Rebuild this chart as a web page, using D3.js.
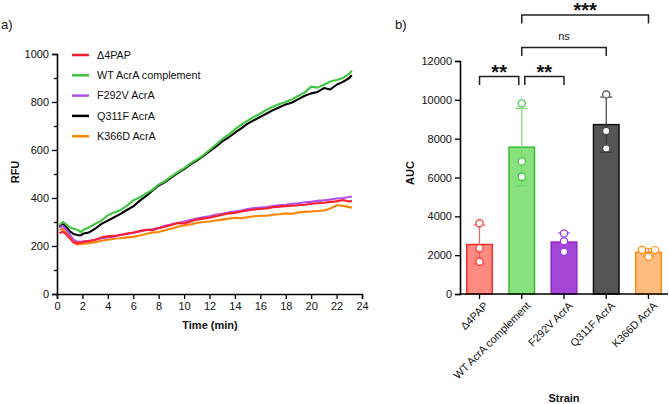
<!DOCTYPE html>
<html><head><meta charset="utf-8">
<script src="https://cdn.jsdelivr.net/npm/d3@7"></script>
<style>body{margin:0;background:#fff}svg{display:block}text{font-family:"Liberation Sans",Arial,Helvetica,sans-serif;fill:#111}</style>
</head><body><svg id="c" width="669" height="404"></svg>
<script>
// ---------- Panel a data ----------
const times = [0.2,0.45,0.7,1.0,1.3,1.6,1.85,2.1,2.5,3.0,3.5,4.0,4.5,5.0,5.5,6.0,6.5,7.0,7.5,8.0,8.5,9.0,9.5,10.0,10.5,11.0,11.5,12.0,12.5,13.0,13.5,14.0,14.5,15.0,15.5,16.0,16.5,17.0,17.5,18.0,18.5,19.0,19.5,20.0,20.5,21.0,21.5,22.0,22.5,23.0,23.2];
const seriesNames = ["Δ4PAP","WT AcrA complement","F292V AcrA","Q311F AcrA","K366D AcrA"];
const rfuD4PAP = [253,260,250,232,216,212,214,218,220,226,236,240,242,246,252,256,262,268,266,274,280,288,296,294,302,310,314,318,324,330,336,338,344,348,352,354,356,362,364,366,368,370,372,376,378,380,384,386,392,385,388];
const rfuWT    = [287,300,292,278,272,268,258,268,277,292,306,328,340,350,368,390,402,418,434,456,470,490,508,524,544,560,578,600,622,645,664,686,706,722,738,752,768,780,792,800,812,826,840,864,860,872,885,892,900,918,930];
const rfuF292V = [275,284,270,248,226,218,218,220,222,226,232,236,240,246,250,254,260,266,270,276,284,290,296,302,308,314,320,324,330,334,340,344,348,354,358,360,362,366,370,372,376,378,382,384,388,390,394,398,400,404,406];
const rfuQ311F = [280,292,280,262,250,246,244,252,256,272,292,306,320,334,350,365,388,408,430,452,466,486,504,520,540,556,574,594,614,636,652,672,690,710,724,738,752,766,778,790,798,812,826,836,842,858,852,872,884,900,912];
const rfuK366D = [266,272,258,236,214,206,208,210,212,216,222,226,230,232,236,238,244,250,256,258,266,272,280,286,290,296,300,302,306,310,314,318,316,320,324,326,326,330,332,336,334,340,342,344,346,348,356,370,368,362,360];
const xTicksA = [0,2,4,6,8,10,12,14,16,18,20,22,24];
const yTicksA = [0,200,400,600,800,1000];
const yMinorA = [100,300,500,700,900];

// ---------- Panel b data ----------
const strains = ["Δ4PAP","WT AcrA complement","F292V AcrA","Q311F AcrA","K366D AcrA"];
const aucReps = [[3640,2350,1660],[9820,6830,6040],[3120,2720,2180],[10280,8390,7500],[2270,1920,2260]];
const yTicksB = [0,2000,4000,6000,8000,10000,12000];
const sigPairs = [[0,1],[1,2],[1,3],[1,4]];
const sigLabels = ["**","**","ns","***"];
const sigHeights = [11200,11200,12700,14370];

// ---------- styles ----------
const lineColors = ["#ff1f2d","#3cc83c","#b04ff0","#000000","#ff8400"];
const barFill   = ["#ff8a80","#88e07e","#a446d6","#555555","#ffbb7e"];
const barStroke = ["#ff2a2a","#37c02e","#9520c8","#111111","#ff8a10"];
const errColor  = ["#ff5a5a","#6fd868","#a040d8","#333333","#ff8f20"];
const ptColor   = ["#ff3030","#3cc83c","#a030e0","#444444","#ff8a10"];

const svg = d3.select("#c");

// ================= Panel a =================
const xA = d3.scaleLinear().domain([0,24]).range([57,362]);
const yA = d3.scaleLinear().domain([0,1000]).range([294,54]);

svg.append("text").attr("x",1).attr("y",29).attr("font-size",13).text("a)");

const gxA = svg.append("g").attr("transform","translate(0,294)")
  .call(d3.axisBottom(xA).tickValues(xTicksA).tickSize(5).tickPadding(3).tickFormat(d3.format("d")));
const gyA = svg.append("g").attr("transform","translate(57,0)")
  .call(d3.axisLeft(yA).tickValues(yTicksA).tickSize(5).tickPadding(3).tickFormat(d3.format("d")));
svg.append("g").attr("transform","translate(57,0)")
  .call(d3.axisLeft(yA).tickValues(yMinorA).tickSize(3).tickFormat(""))
  .call(g=>g.select(".domain").remove());
[gxA,gyA].forEach(g=>{
  g.selectAll("text").attr("font-size",11).attr("fill","#111");
  g.select(".domain").attr("stroke","#000").attr("stroke-width",1.6);
});
svg.selectAll(".tick line").attr("stroke","#000").attr("stroke-width",1.3);

svg.append("text").attr("transform","translate(19,172) rotate(-90)").attr("text-anchor","middle")
  .attr("font-size",11).attr("font-weight","bold").text("RFU");
svg.append("text").attr("x",210).attr("y",329).attr("text-anchor","middle")
  .attr("font-size",11).attr("font-weight","bold").text("Time (min)");

const seriesData = [rfuD4PAP,rfuWT,rfuF292V,rfuQ311F,rfuK366D];
const line = d3.line().x((d,i)=>xA(times[i])).y(d=>yA(d));
const drawOrder = [3,1,4,2,0];
drawOrder.forEach(k=>{
  svg.append("path").datum(seriesData[k]).attr("d",line)
    .attr("fill","none").attr("stroke",lineColors[k]).attr("stroke-width",2.1)
    .attr("stroke-linejoin","round");
});

// legend
const leg = svg.append("g");
seriesNames.forEach((n,i)=>{
  const y = 55 + i*20.3;
  leg.append("line").attr("x1",72).attr("x2",89).attr("y1",y).attr("y2",y)
    .attr("stroke",lineColors[i]).attr("stroke-width",2.5);
  leg.append("text").attr("x",97).attr("y",y).attr("dy","0.36em").attr("font-size",10.8).text(n);
});

// ================= Panel b =================
const xB = d3.scaleBand().domain(strains).range([466,662]).paddingInner(0.36).paddingOuter(0);
const yB = d3.scaleLinear().domain([0,12000]).range([294,61]);

svg.append("text").attr("x",395).attr("y",29).attr("font-size",13).text("b)");

const means = aucReps.map(r=>d3.mean(r));
const sds = aucReps.map(r=>d3.deviation(r));

// bars
strains.forEach((s,i)=>{
  svg.append("rect").attr("x",xB(s)+0.75).attr("width",xB.bandwidth()-1.5)
    .attr("y",yB(means[i])).attr("height",yB(0)-yB(means[i]))
    .attr("fill",barFill[i]).attr("stroke",barStroke[i]).attr("stroke-width",1.5);
});

// axes
const gxB = svg.append("g").attr("transform","translate(0,294)")
  .call(d3.axisBottom(xB).tickSize(5).tickFormat(""));
gxB.select(".domain").attr("d","M460,0H668").attr("stroke","#000").attr("stroke-width",1.6);
gxB.selectAll(".tick line").attr("stroke","#000").attr("stroke-width",1.3);
strains.forEach((s,i)=>{
  const cx = xB(s)+xB.bandwidth()/2;
  svg.append("text").attr("transform",`translate(${cx+4},301) rotate(-45)`)
    .attr("text-anchor","end").attr("dy","0.71em").attr("font-size",10.8).text(s);
});
const gyB = svg.append("g").attr("transform","translate(460,0)")
  .call(d3.axisLeft(yB).tickValues(yTicksB).tickSize(5).tickPadding(3).tickFormat(d3.format("d")));
gyB.selectAll("text").attr("font-size",11).attr("fill","#111");
gyB.select(".domain").attr("stroke","#000").attr("stroke-width",1.6);
gyB.selectAll(".tick line").attr("stroke","#000").attr("stroke-width",1.3);

svg.append("text").attr("transform","translate(414,173) rotate(-90)").attr("text-anchor","middle")
  .attr("font-size",11).attr("font-weight","bold").text("AUC");
svg.append("text").attr("x",564).attr("y",402).attr("text-anchor","middle")
  .attr("font-size",11).attr("font-weight","bold").text("Strain");

// error bars (mean ± SD)
strains.forEach((s,i)=>{
  const cx = xB(s)+xB.bandwidth()/2;
  const hi = yB(means[i]+sds[i]), lo = yB(means[i]-sds[i]);
  const g = svg.append("g").attr("stroke",errColor[i]).attr("stroke-width",1.1);
  g.append("line").attr("x1",cx).attr("x2",cx).attr("y1",hi).attr("y2",lo);
  g.append("line").attr("x1",cx-6).attr("x2",cx+6).attr("y1",hi).attr("y2",hi);
  g.append("line").attr("x1",cx-6).attr("x2",cx+6).attr("y1",lo).attr("y2",lo);
});

// replicate points
const r = 3.6;
aucReps.forEach((reps,i)=>{
  const cx = xB(strains[i])+xB.bandwidth()/2;
  const ys = reps.map(v=>yB(v));
  let collide = false;
  for (let a=0;a<ys.length;a++) for (let b=a+1;b<ys.length;b++) if (Math.abs(ys[a]-ys[b])<2*r) collide = true;
  reps.forEach((v,j)=>{
    const off = collide ? (j-1)*6.5 : 0;
    svg.append("circle").attr("cx",cx+off).attr("cy",yB(v)).attr("r",r)
      .attr("fill","#fff").attr("stroke",ptColor[i]).attr("stroke-width",1.2);
  });
});

// significance brackets
sigPairs.forEach((p,k)=>{
  let x1 = xB(strains[p[0]])+xB.bandwidth()/2;
  let x2 = xB(strains[p[1]])+xB.bandwidth()/2;
  if (k===0) x2 -= 3;
  if (k===1) x1 += 3;
  const yTop = yB(sigHeights[k]);
  const drop = 8.5;
  svg.append("path").attr("d",`M${x1},${yTop+drop}V${yTop}H${x2}V${yTop+drop}`)
    .attr("fill","none").attr("stroke","#222").attr("stroke-width",1.5);
  const lbl = sigLabels[k];
  if (lbl==="ns") {
    svg.append("text").attr("x",(x1+x2)/2).attr("y",yTop-7)
      .attr("text-anchor","middle").attr("font-size",11).text(lbl);
  } else {
    svg.append("text").attr("x",(x1+x2)/2).attr("y",yTop+2.5)
      .attr("text-anchor","middle").attr("font-size",20).attr("font-weight","bold").text(lbl);
  }
});
</script></body></html>
